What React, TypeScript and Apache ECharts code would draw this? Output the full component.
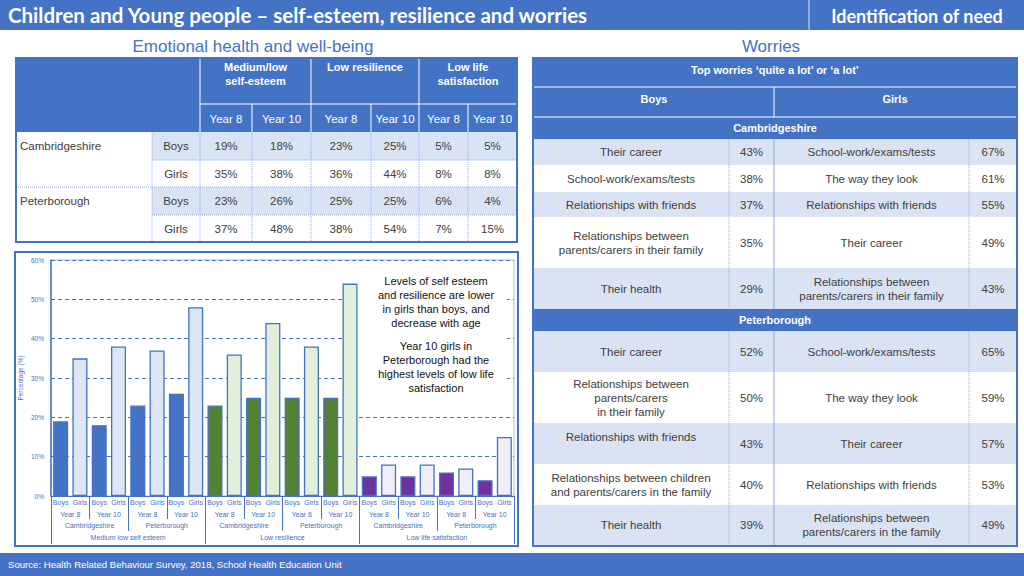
import React, { useEffect, useRef } from "react";
import * as echarts from "echarts";

// ---------- data ----------
const genders = ["Boys", "Girls"];
const years = ["Year 8", "Year 10"];
const areas = ["Cambridgeshire", "Peterborough"];
const measureLabels = ["Medium low self esteem", "Low resilience", "Low life satisfaction"];
const measureHeaders = ["Medium/low\nself-esteem", "Low resilience", "Low life\nsatisfaction"];

// order: Cambridgeshire Y8, Cambridgeshire Y10, Peterborough Y8, Peterborough Y10
const selfEsteemBoys = [19, 18, 23, 26];
const selfEsteemGirls = [35, 38, 37, 48];
const resilienceBoys = [23, 25, 25, 25];
const resilienceGirls = [36, 44, 38, 54];
const lifeSatBoys = [5, 5, 6, 4];
const lifeSatGirls = [8, 8, 7, 15];

const yTicks = [0, 10, 20, 30, 40, 50, 60];

const cambBoysWorries = [
  "Their career",
  "School-work/exams/tests",
  "Relationships with friends",
  "Relationships between\nparents/carers in their family",
  "Their health",
];
const cambBoysPct = [43, 38, 37, 35, 29];
const cambGirlsWorries = [
  "School-work/exams/tests",
  "The way they look",
  "Relationships with friends",
  "Their career",
  "Relationships between\nparents/carers in their family",
];
const cambGirlsPct = [67, 61, 55, 49, 43];
const peterBoysWorries = [
  "Their career",
  "Relationships between\nparents/carers\nin their family",
  "Relationships with friends\n ",
  "Relationships between children\nand parents/carers in the family",
  "Their health",
];
const peterBoysPct = [52, 50, 43, 40, 39];
const peterGirlsWorries = [
  "School-work/exams/tests",
  "The way they look",
  "Their career",
  "Relationships with friends",
  "Relationships between\nparents/carers in the family",
];
const peterGirlsPct = [65, 59, 57, 53, 49];

const titleText = "Children and Young people \u2013 self-esteem, resilience and worries";
const sectionText = "Identification of need";
const leftHeading = "Emotional health and well-being";
const rightHeading = "Worries";
const worriesHeader = "Top worries \u2018quite a lot\u2019 or \u2018a lot\u2019";
const annotation1 = "Levels of self esteem\nand resilience are lower\nin girls than boys, and\ndecrease with age";
const annotation2 = "Year 10 girls in\nPeterborough had the\nhighest levels of low life\nsatisfaction";
const sourceText = "Source: Health Related Behaviour Survey, 2018, School Health Education Unit";

// ---------- styling ----------
const BLUE = "#4472C4";
const LIGHT = "#DAE3F3";
const DOT = "#8FAADC";
const TXT = "#404040";
const FONT = "'Liberation Sans', Arial, Helvetica, sans-serif";
const TFS = 11.5;
const barColors = [
  ["#4472C4", "#DCE6F4"],
  ["#548235", "#E2EFDA"],
  ["#7030A0", "#F1EEF8"],
];

function txt(text: string, x: number, y: number, o: any = {}) {
  const align = o.align ?? "center";
  return {
    type: "text",
    silent: true,
    z: o.z ?? 20,
    style: {
      text,
      x,
      y,
      fill: o.fill ?? TXT,
      fontSize: o.size ?? TFS,
      fontFamily: o.family ?? FONT,
      fontWeight: o.weight ?? "normal",
      align,
      textAlign: align,
      verticalAlign: "middle",
      textVerticalAlign: "middle",
      lineHeight: o.lh ?? 14,
    },
  };
}
function rect(x: number, y: number, w: number, h: number, fill: string, stroke?: string, lw?: number, z = 5) {
  return {
    type: "rect",
    silent: true,
    z,
    shape: { x, y, width: w, height: h },
    style: { fill, stroke: stroke ?? "none", lineWidth: lw ?? 0 },
  };
}
function ln(x1: number, y1: number, x2: number, y2: number, stroke: string, lw = 1, dash?: number[], z = 6) {
  return {
    type: "line",
    silent: true,
    z,
    shape: { x1, y1, x2, y2 },
    style: { stroke, lineWidth: lw, lineDash: dash ?? null },
  };
}

function buildGraphics() {
  const g: any[] = [];
  // title bar
  g.push(rect(0, 0, 1024, 30, BLUE, undefined, 0, 1));
  g.push(ln(809, 0, 809, 30, "#A9BEE6", 1.5, undefined, 2));
  g.push(txt(titleText, 8, 15, { align: "left", fill: "#fff", size: 20.5, weight: "bold", family: "Lato, 'Open Sans', sans-serif" }));
  g.push(txt(sectionText, 917, 16, { fill: "#fff", size: 18, weight: "bold", family: "Lato, 'Open Sans', sans-serif" }));
  // footer
  g.push(rect(0, 553, 1024, 23, BLUE, undefined, 0, 1));
  g.push(txt(sourceText, 8, 564, { align: "left", fill: "#fff", size: 9.6 }));
  // headings
  g.push(txt(leftHeading, 253, 46, { fill: BLUE, size: 17 }));
  g.push(txt(rightHeading, 771, 46, { fill: BLUE, size: 17 }));

  // ----- left table -----
  const colX = [16, 152, 200, 252, 311, 371, 419, 468, 517];
  const rowY = [132, 160, 187, 215, 242];
  g.push(rect(16, 58, 501, 74, BLUE));
  // header separators
  g.push(ln(200, 104, 517, 104, "#fff", 1));
  [200, 311, 419].forEach((x) => g.push(ln(x, 58, x, 132, "#fff", 1)));
  [252, 371, 468].forEach((x) => g.push(ln(x, 104, x, 132, "#fff", 1)));
  measureHeaders.forEach((m, i) => {
    const x0 = colX[2 + i * 2], x1 = colX[4 + i * 2];
    const lines = m.split("\n").length;
    g.push(txt(m, (x0 + x1) / 2, 67 + (lines - 1) * 7, { fill: "#fff", weight: "bold", size: 11 }));
    years.forEach((y, j) => {
      const a = colX[2 + i * 2 + j], b = colX[3 + i * 2 + j];
      g.push(txt(y, (a + b) / 2, 119, { fill: "#fff" }));
    });
  });
  const sets = [
    [selfEsteemBoys, selfEsteemGirls],
    [resilienceBoys, resilienceGirls],
    [lifeSatBoys, lifeSatGirls],
  ];
  let r = 0;
  areas.forEach((area, ai) => {
    genders.forEach((gender, gi) => {
      const y0 = rowY[r], y1 = rowY[r + 1];
      const cy = (y0 + y1) / 2;
      if (gi === 0) {
        g.push(rect(152, y0, 365, y1 - y0, LIGHT));
        g.push(txt(area, 20, cy, { align: "left" }));
      }
      g.push(txt(gender, 176, cy));
      sets.forEach((pair, mi) => {
        years.forEach((_, yi) => {
          const v = pair[gi][ai * 2 + yi];
          const a = colX[2 + mi * 2 + yi], b = colX[3 + mi * 2 + yi];
          g.push(txt(v + "%", (a + b) / 2, cy));
        });
      });
      r++;
    });
  });
  // dotted grid
  g.push(ln(152, 160, 517, 160, DOT, 1, [1, 1]));
  g.push(ln(16, 187, 517, 187, DOT, 1, [1, 1]));
  g.push(ln(152, 215, 517, 215, DOT, 1, [1, 1]));
  colX.slice(1, 8).forEach((x) => g.push(ln(x, 132, x, 242, DOT, 1, [1, 1])));
  g.push(rect(16, 58, 501, 184, "none", BLUE, 2, 8));

  // ----- right table -----
  const rc = [533, 729, 774, 969, 1017];
  g.push(rect(533, 58, 484, 81, BLUE));
  g.push(ln(533, 87, 1017, 87, "#fff", 1));
  g.push(ln(533, 117, 1017, 117, "#fff", 1));
  g.push(ln(774, 87, 774, 117, "#fff", 1));
  g.push(txt(worriesHeader, 775, 70, { fill: "#fff", weight: "bold", size: 11 }));
  g.push(txt(genders[0], 654, 99, { fill: "#fff", weight: "bold", size: 11 }));
  g.push(txt(genders[1], 895, 99, { fill: "#fff", weight: "bold", size: 11 }));
  g.push(txt(areas[0], 775, 128, { fill: "#fff", weight: "bold", size: 11 }));
  g.push(rect(533, 309, 484, 22, BLUE));
  g.push(txt(areas[1], 775, 320, { fill: "#fff", weight: "bold", size: 11 }));

  const blocks = [
    { rows: [139, 165, 192, 217, 268, 309], bw: cambBoysWorries, bp: cambBoysPct, gw: cambGirlsWorries, gp: cambGirlsPct },
    { rows: [331, 372, 423, 464, 505, 545], bw: peterBoysWorries, bp: peterBoysPct, gw: peterGirlsWorries, gp: peterGirlsPct },
  ];
  blocks.forEach((bl) => {
    for (let i = 0; i < 5; i++) {
      const y0 = bl.rows[i], y1 = bl.rows[i + 1];
      const cy = (y0 + y1) / 2;
      if (i % 2 === 0) g.push(rect(533, y0, 484, y1 - y0, LIGHT));
      g.push(txt(bl.bw[i], (rc[0] + rc[1]) / 2, cy));
      g.push(txt(bl.bp[i] + "%", (rc[1] + rc[2]) / 2, cy));
      g.push(txt(bl.gw[i], (rc[2] + rc[3]) / 2, cy));
      g.push(txt(bl.gp[i] + "%", (rc[3] + rc[4]) / 2, cy));
    }
    const t = bl.rows[0], b = bl.rows[5];
    g.push(ln(729, t, 729, b, DOT, 1, [1, 1]));
    g.push(ln(969, t, 969, b, DOT, 1, [1, 1]));
    g.push(ln(774, t, 774, b, DOT, 1));
  });
  g.push(rect(533, 58, 484, 488, "none", BLUE, 2, 8));

  // ----- chart box + annotation -----
  g.push(rect(358, 268, 149, 130, "#fff", undefined, 0, 5));
  g.push(txt(annotation1, 436, 302, { fill: "#111", size: 11, lh: 14 }));
  g.push(txt(annotation2, 436, 367, { fill: "#111", size: 11, lh: 14 }));
  g.push(rect(15, 252, 503, 294, "none", BLUE, 2, 10));
  return g;
}

export default function App() {
  const ref = useRef<HTMLDivElement>(null);
  useEffect(() => {
    if (!ref.current) return;
    const chart = echarts.init(ref.current, undefined, { renderer: "svg" });

    const level1: string[] = [];
    const level2: string[] = [];
    const level3: string[] = [];
    measureLabels.forEach(() => {
      areas.forEach((a) => {
        level3.push(a);
        years.forEach((y) => {
          level2.push(y);
          genders.forEach((gd) => level1.push(gd));
        });
      });
    });
    const sets = [
      [selfEsteemBoys, selfEsteemGirls],
      [resilienceBoys, resilienceGirls],
      [lifeSatBoys, lifeSatGirls],
    ];
    const barData: any[] = [];
    sets.forEach(([b, gl], mi) => {
      for (let i = 0; i < 4; i++) {
        barData.push({ value: b[i], itemStyle: { color: barColors[mi][0] } });
        barData.push({ value: gl[i], itemStyle: { color: barColors[mi][1] } });
      }
    });

    const lab = (margin: number) => ({
      interval: 0,
      margin,
      fontSize: 7,
      color: BLUE,
      fontFamily: FONT,
      hideOverlap: false,
    });
    const sub = (data: string[], tickLen: number, margin: number) => ({
      type: "category",
      gridIndex: 0,
      position: "bottom",
      data,
      axisLine: { show: false },
      axisTick: { show: true, interval: 0, length: tickLen, lineStyle: { color: BLUE, width: 1 } },
      axisLabel: lab(margin),
      splitLine: { show: false },
    });

    chart.setOption({
      animation: false,
      backgroundColor: "#ffffff",
      grid: {
        left: 51,
        top: 260,
        width: 463,
        height: 236,
        show: true,
        borderColor: "#A9BDE3",
        borderWidth: 1,
        containLabel: false,
      },
      xAxis: [
        {
          type: "category",
          gridIndex: 0,
          position: "bottom",
          data: level1,
          axisLine: { show: true, lineStyle: { color: BLUE, width: 1 } },
          axisTick: { show: false },
          axisLabel: lab(3),
        },
        sub(level2, 23, 15),
        sub(level3, 35, 26),
        sub(measureLabels, 48, 38),
      ],
      yAxis: {
        type: "value",
        min: 0,
        max: yTicks[yTicks.length - 1],
        interval: yTicks[1] - yTicks[0],
        name: "Percentage (%)",
        nameLocation: "middle",
        nameRotate: 90,
        nameGap: 27,
        nameTextStyle: { color: BLUE, fontSize: 6.5, fontFamily: FONT },
        axisLine: { show: true, lineStyle: { color: BLUE, width: 1.5 } },
        axisTick: { show: false },
        axisLabel: { formatter: "{value}%", fontSize: 6.5, color: BLUE, margin: 7, fontFamily: FONT },
        splitLine: { show: true, lineStyle: { color: BLUE, type: [4, 3], width: 1 } },
      },
      series: [
        {
          type: "bar",
          xAxisIndex: 0,
          yAxisIndex: 0,
          data: barData,
          barCategoryGap: "22%",
          itemStyle: { borderColor: BLUE, borderWidth: 1.3 },
        },
      ],
      graphic: buildGraphics(),
    });
    return () => chart.dispose();
  }, []);
  return (
    <div
      ref={ref}
      style={{ position: "absolute", left: 0, top: 0, width: 1024, height: 576 }}
    />
  );
}
